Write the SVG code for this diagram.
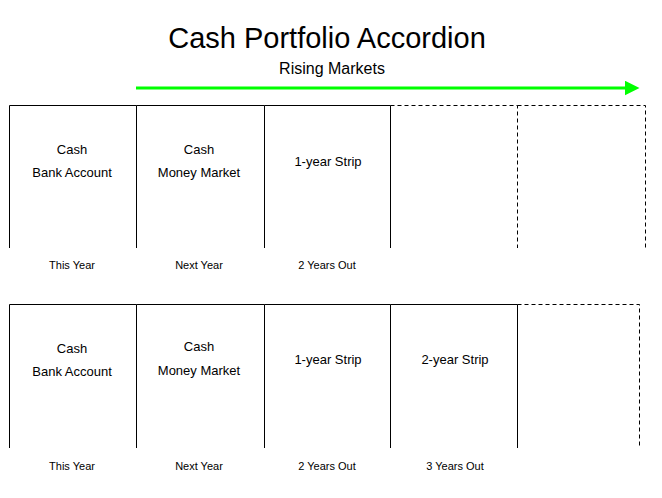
<svg xmlns="http://www.w3.org/2000/svg" width="662" height="498" viewBox="0 0 662 498">
<style>
.ln{stroke:#000;stroke-width:1;fill:none}
.ds{stroke:#000;stroke-width:1;fill:none;stroke-dasharray:4,3}
text{font-family:"Liberation Sans",Arial,sans-serif;fill:#000;text-anchor:middle}
.big{font-size:13px}
.sm{font-size:11px}
</style>
<defs>
<marker id="ah" markerWidth="5" markerHeight="5" refX="0.5" refY="2.5" orient="auto" markerUnits="strokeWidth">
<path d="M0,0 L5,2.5 L0,5 Z" fill="#00ff00"/>
</marker>
</defs>
<rect width="662" height="498" fill="#fff"/>
<text x="327" y="48" style="font-size:29px">Cash Portfolio Accordion</text>
<text x="332" y="74" style="font-size:16px">Rising Markets</text>
<g id="connectors">
<line x1="136" y1="88" x2="626" y2="88" stroke="#00ff00" stroke-width="3" marker-end="url(#ah)"/>
</g>
<g id="row1">
<g id="r1c1">
<path class="ln" d="M9.5,248 V105.5 H136.5"/>
<text class="big" x="72" y="154">Cash</text>
<text class="big" x="72" y="177">Bank Account</text>
<text class="sm" x="72" y="269">This Year</text>
</g>
<g id="r1c2">
<path class="ln" d="M136.5,248 V105.5 H264.5"/>
<text class="big" x="199" y="154">Cash</text>
<text class="big" x="199" y="177">Money Market</text>
<text class="sm" x="199" y="269">Next Year</text>
</g>
<g id="r1c3">
<path class="ln" d="M264.5,248 V105.5 H390.5 V248"/>
<text class="big" x="328" y="166">1-year Strip</text>
<text class="sm" x="327" y="269">2 Years Out</text>
</g>
<g id="r1c4">
<path class="ds" d="M390.5,105.5 H517.5 V248"/>
</g>
<g id="r1c5">
<path class="ds" d="M517.5,105.5 H645.5 V248"/>
</g>
</g>
<g id="row2">
<g id="r2c1">
<path class="ln" d="M9.5,448 V304.5 H136.5"/>
<text class="big" x="72" y="353">Cash</text>
<text class="big" x="72" y="376">Bank Account</text>
<text class="sm" x="72" y="470">This Year</text>
</g>
<g id="r2c2">
<path class="ln" d="M136.5,448 V304.5 H264.5"/>
<text class="big" x="199" y="351">Cash</text>
<text class="big" x="199" y="375">Money Market</text>
<text class="sm" x="199" y="470">Next Year</text>
</g>
<g id="r2c3">
<path class="ln" d="M264.5,448 V304.5 H390.5"/>
<text class="big" x="328" y="364">1-year Strip</text>
<text class="sm" x="327" y="470">2 Years Out</text>
</g>
<g id="r2c4">
<path class="ln" d="M390.5,448 V304.5 H517.5 V448"/>
<text class="big" x="455" y="364">2-year Strip</text>
<text class="sm" x="455" y="470">3 Years Out</text>
</g>
<g id="r2c5">
<path class="ds" d="M517.5,304.5 H639.5 V448"/>
</g>
</g>
</svg>
